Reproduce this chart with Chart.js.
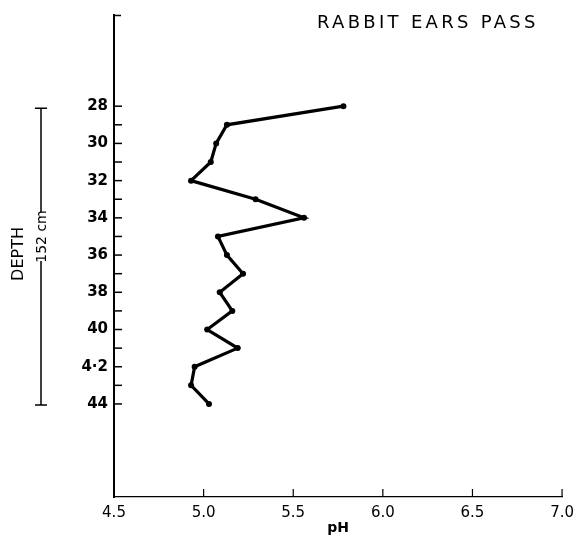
<!DOCTYPE html>
<html>
<head>
<meta charset="utf-8">
<script src="https://cdn.jsdelivr.net/npm/chart.js@4.4.0/dist/chart.umd.min.js"></script>
<style>
    html, body { margin: 0; padding: 0; background: #fff; }
</style>
</head>
<body>
<canvas id="ph-chart" width="581" height="543"></canvas>
<script>
// Données (profondeur -> pH)
const depths = [28, 29, 30, 31, 32, 33, 34, 35, 36, 37, 38, 39, 40, 41, 42, 43, 44];
const phValues = [5.78, 5.13, 5.07, 5.04, 4.93, 5.29, 5.56, 5.08, 5.13, 5.22, 5.09, 5.16, 5.02, 5.19, 4.95, 4.93, 5.03];

// Graduations
const depthTicks = [28, 29, 30, 31, 32, 33, 34, 35, 36, 37, 38, 39, 40, 41, 42, 43, 44];
const depthTickLabels = ['28', '', '30', '', '32', '', '34', '', '36', '', '38', '', '40', '', '4·2', '', '44'];
const phTicks = [4.5, 5.0, 5.5, 6.0, 6.5, 7.0];
const phTickLabels = ['4.5', '5.0', '5.5', '6.0', '6.5', '7.0'];

const chartTitle = 'RABBIT EARS PASS';
const depthTitle = 'DEPTH';
const depthSpan = '152 cm';

const ink = '#000';

// Plugin : graduations vers l'intérieur, titre et barre d'échelle à gauche
const decorPlugin = {
    id: 'decor',
    afterDraw(chart) {
        const ctx = chart.ctx;
        const x = chart.scales.x;
        const y = chart.scales.y;
        ctx.save();
        ctx.strokeStyle = ink;
        ctx.fillStyle = ink;

        // graduations de profondeur
        ctx.lineWidth = 1.5;
        depthTicks.forEach(d => {
            const py = y.getPixelForValue(d);
            ctx.beginPath();
            ctx.moveTo(x.left, py);
            ctx.lineTo(x.left + 8, py);
            ctx.stroke();
        });
        // petit coin en haut de l'axe
        ctx.beginPath();
        ctx.moveTo(x.left, y.top + 0.5);
        ctx.lineTo(x.left + 7, y.top + 0.5);
        ctx.stroke();

        // graduations de pH
        ctx.lineWidth = 1.2;
        phTicks.slice(1).forEach(v => {
            const px = x.getPixelForValue(v);
            ctx.beginPath();
            ctx.moveTo(px, x.top);
            ctx.lineTo(px, x.top - 8);
            ctx.stroke();
        });

        // titre
        ctx.font = '18px "DejaVu Sans"';
        ctx.letterSpacing = '3.3px';
        ctx.textAlign = 'left';
        ctx.textBaseline = 'alphabetic';
        ctx.fillText(chartTitle, 317, 28);
        ctx.letterSpacing = '0px';

        // barre d'échelle 152 cm
        const barX = 41;
        const yTop = y.getPixelForValue(depthTicks[0]) + 2;
        const yBot = y.getPixelForValue(depthTicks[depthTicks.length - 1]) + 1;
        const gapTop = 212, gapBot = 261;
        ctx.lineWidth = 1.5;
        ctx.beginPath();
        ctx.moveTo(barX, yTop);
        ctx.lineTo(barX, gapTop);
        ctx.moveTo(barX, gapBot);
        ctx.lineTo(barX, yBot);
        ctx.moveTo(barX - 6, yTop);
        ctx.lineTo(barX + 6, yTop);
        ctx.moveTo(barX - 6, yBot);
        ctx.lineTo(barX + 6, yBot);
        ctx.stroke();

        ctx.textAlign = 'center';
        ctx.textBaseline = 'middle';
        ctx.save();
        ctx.translate(barX + 1, (gapTop + gapBot) / 2);
        ctx.rotate(-Math.PI / 2);
        ctx.font = '14px "DejaVu Sans"';
        ctx.fillText(depthSpan, 0, 0);
        ctx.restore();

        ctx.save();
        ctx.translate(19, 254);
        ctx.rotate(-Math.PI / 2);
        ctx.font = '16px "DejaVu Sans"';
        ctx.fillText(depthTitle, 0, 0);
        ctx.restore();

        ctx.restore();
    }
};

const points = depths.map((d, i) => ({ x: phValues[i], y: d }));

const ctx = document.getElementById('ph-chart').getContext('2d');
const phChart = new Chart(ctx, {
    type: 'scatter',
    data: {
        datasets: [{
            label: 'pH',
            data: points,
            showLine: true,
            borderColor: ink,
            borderWidth: 3.2,
            tension: 0,
            pointRadius: 3,
            pointBackgroundColor: ink,
            pointBorderColor: ink,
            pointBorderWidth: 0,
            clip: false
        }]
    },
    options: {
        responsive: false,
        animation: false,
        layout: {
            autoPadding: false,
            padding: { top: 13, right: 7, left: 0, bottom: 0 }
        },
        plugins: {
            legend: { display: false },
            tooltip: { enabled: false }
        },
        scales: {
            x: {
                type: 'linear',
                min: 4.5,
                max: 7.0,
                afterBuildTicks: scale => { scale.ticks = phTicks.map(v => ({ value: v })); },
                afterFit: scale => { scale.height = 46; },
                grid: { display: false, drawTicks: false },
                border: { display: true, color: ink, width: 1.3 },
                ticks: {
                    autoSkip: false,
                    maxRotation: 0,
                    padding: 7,
                    color: ink,
                    font: { family: 'DejaVu Sans', size: 15 },
                    callback: (value, index) => phTickLabels[index]
                },
                title: {
                    display: true,
                    text: 'pH',
                    color: ink,
                    font: { family: 'DejaVu Sans', size: 14, weight: 'bold' },
                    padding: { top: 0, bottom: 6 }
                }
            },
            y: {
                type: 'linear',
                reverse: true,
                min: 23.1,
                max: 49.0,
                afterBuildTicks: scale => { scale.ticks = depthTicks.map(v => ({ value: v })); },
                afterFit: scale => { scale.width = 114; },
                grid: { display: false, drawTicks: false },
                border: { display: true, color: ink, width: 2 },
                ticks: {
                    autoSkip: false,
                    padding: 6,
                    color: ink,
                    font: { family: 'DejaVu Sans', size: 15, weight: 'bold' },
                    callback: (value, index) => depthTickLabels[index]
                }
            }
        }
    },
    plugins: [decorPlugin]
});
</script>
</body>
</html>
